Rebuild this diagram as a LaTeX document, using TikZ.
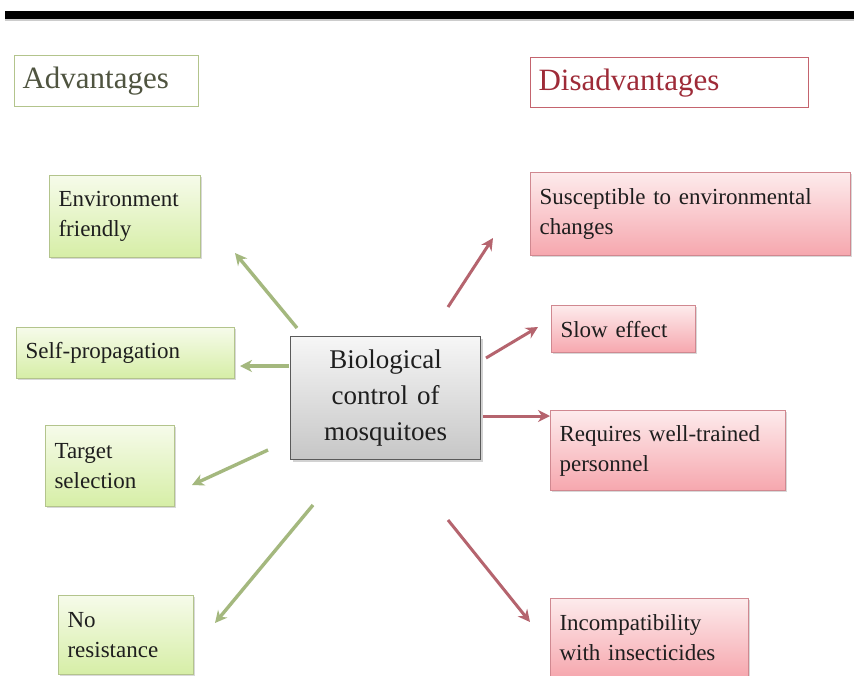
\documentclass[tikz,border=0pt]{standalone}
\usepackage{fontspec}
\setmainfont{Liberation Serif}
\usetikzlibrary{shadows,arrows.meta}
\definecolor{gborder}{HTML}{B3C48C}
\definecolor{gtop}{HTML}{F6FBEA}
\definecolor{gbot}{HTML}{D6EEA6}
\definecolor{rborder}{HTML}{D08890}
\definecolor{rtop}{HTML}{FDEBEC}
\definecolor{rbot}{HTML}{F6A7AE}
\definecolor{cborder}{HTML}{5A5A5A}
\definecolor{ctop}{HTML}{F6F6F6}
\definecolor{cbot}{HTML}{C6C6C6}
\definecolor{garrow}{HTML}{A4B87E}
\definecolor{rarrow}{HTML}{B5646E}
\definecolor{txt}{HTML}{1E1E1E}
\definecolor{advtxt}{HTML}{4F5440}
\definecolor{distxt}{HTML}{9E2B38}
\definecolor{disborder}{HTML}{C4646E}
\tikzset{
  boxbase/.style={anchor=north west, align=left, inner xsep=9pt, inner ysep=0pt,
    text=txt, font=\fontsize{23}{30}\selectfont, line width=1.1pt,
    drop shadow={shadow xshift=1.5pt, shadow yshift=-1.5pt, opacity=0.3}},
  gbox/.style={boxbase, draw=gborder, top color=gtop, bottom color=gbot},
  rbox/.style={boxbase, draw=rborder, top color=rtop, bottom color=rbot},
  cbox/.style={anchor=north west, align=center, inner sep=0pt, text=txt,
    font=\fontsize{27}{36}\selectfont, draw=cborder, line width=1.3pt,
    top color=ctop, bottom color=cbot,
    drop shadow={shadow xshift=2pt, shadow yshift=-2pt, opacity=0.35}},
  titlebox/.style={anchor=north west, align=left, inner xsep=8pt, inner ysep=0pt,
    font=\fontsize{31}{34}\selectfont, fill=white, line width=1.2pt},
  garr/.style={draw=garrow, line width=3.4pt, -{Stealth[length=12pt,width=12pt]}},
  rarr/.style={draw=rarrow, line width=3pt, -{Stealth[length=12pt,width=12pt]}}
}
\begin{document}
\begin{tikzpicture}[x=1pt,y=-1pt]
\useasboundingbox (0,0) rectangle (854,675);
\fill[white] (0,0) rectangle (854,675);
% top bar
\fill[black!20] (5,19) rectangle (854,21);
\fill[black] (5,11) rectangle (854,19);
% titles
\node[titlebox, draw=gborder, text=advtxt, text width=168pt, minimum height=51pt] (adv) at (14,55) {Advantages};
\node[titlebox, draw=disborder, text=distxt, text width=262pt, minimum height=50pt] (dis) at (530,57) {Disadvantages};
% central
\node[cbox, text width=190pt, minimum height=123pt] (central) at (290,336) {Biological\\control of\\mosquitoes};
% advantages
\node[gbox, text width=133pt, minimum height=82pt] (env) at (49,175) {Environment\\friendly};
\node[gbox, text width=200pt, minimum height=51pt] (self) at (16,327) {Self-propagation};
\node[gbox, text width=111pt, minimum height=81pt] (target) at (45,425) {Target\\selection};
\node[gbox, text width=117pt, minimum height=79pt] (nores) at (58,595) {No\\resistance};
% disadvantages
\node[rbox, text width=302pt, minimum height=83pt] (susc) at (530,172) {Susceptible to environmental\\changes};
\node[rbox, text width=126pt, minimum height=47pt] (slow) at (551,305) {Slow effect};
\node[rbox, text width=217pt, minimum height=80pt] (req) at (550,410) {Requires well-trained\\personnel};
\node[rbox, text width=180pt, minimum height=79pt] (incomp) at (550,598) {Incompatibility\\with insecticides};
% arrow end points
\coordinate (a1s) at (297,328); \coordinate (a1e) at (235,253);
\coordinate (a2s) at (289,366); \coordinate (a2e) at (240,366);
\coordinate (a3s) at (268,450); \coordinate (a3e) at (192,485);
\coordinate (a4s) at (313,505); \coordinate (a4e) at (215,623);
\coordinate (b1s) at (448,307); \coordinate (b1e) at (493,238);
\coordinate (b2s) at (486,358); \coordinate (b2e) at (538,327);
\coordinate (b3s) at (483,416); \coordinate (b3e) at (550,416);
\coordinate (b4s) at (448,520); \coordinate (b4e) at (530,622);
\draw[garr] (a1s) -- (a1e);
\draw[garr] (a2s) -- (a2e);
\draw[garr] (a3s) -- (a3e);
\draw[garr] (a4s) -- (a4e);
\draw[rarr] (b1s) -- (b1e);
\draw[rarr] (b2s) -- (b2e);
\draw[rarr] (b3s) -- (b3e);
\draw[rarr] (b4s) -- (b4e);
\end{tikzpicture}
\end{document}
